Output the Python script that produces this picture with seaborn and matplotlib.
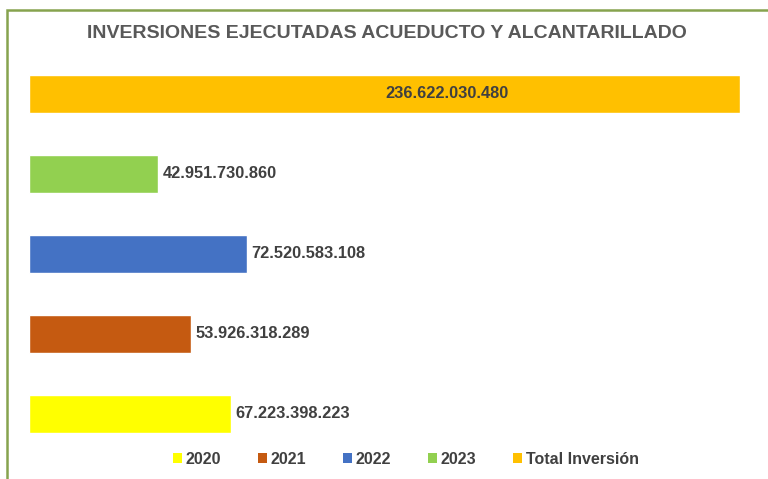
import matplotlib
matplotlib.use("Agg")
import matplotlib.pyplot as plt
import seaborn as sns
import pandas as pd
from matplotlib.patches import Rectangle, Patch

categories = ["Total Inversión", "2023", "2022", "2021", "2020"]
values = [236622030480, 42951730860, 72520583108, 53926318289, 67223398223]
labels = ["236.622.030.480", "42.951.730.860", "72.520.583.108", "53.926.318.289", "67.223.398.223"]
colors = {"2020": "#FFFF00", "2021": "#C55A11", "2022": "#4472C4",
          "2023": "#92D050", "Total Inversión": "#FFC000"}
legend_order = ["2020", "2021", "2022", "2023", "Total Inversión"]

df = pd.DataFrame({"cat": categories, "val": values})

sns.set_theme(style="white")
plt.rcParams['font.family'] = ['Liberation Sans', 'DejaVu Sans']

fig = plt.figure(figsize=(7.68, 4.79), dpi=100)
fig.patch.set_facecolor("white")
# frame
fig.patches.append(Rectangle((7/768, -0.1), 1.2, (479-10)/479 + 0.1, transform=fig.transFigure,
                             fill=False, edgecolor="#86A34E", linewidth=1.8, zorder=0))

ax = fig.add_axes([29/768, (479-454)/479, (740-29)/768, 400/479])
sns.barplot(data=df, y="cat", x="val", hue="cat", palette=colors, order=categories,
            dodge=False, width=0.48, ax=ax, legend=False, saturation=1)
ax.set_xlim(0, values[0])
ax.set_ylim(4.5, -0.5)
ax.axis("off")

txtcol = "#404040"
for i, (v, lab) in enumerate(zip(values, labels)):
    if i == 0:
        ax.text(v * 0.588, i, lab, ha="center", va="center", fontsize=11.8,
                fontweight="bold", color=txtcol)
    else:
        ax.text(v + values[0] * 0.006, i, lab, ha="left", va="center", fontsize=11.8,
                fontweight="bold", color=txtcol)

fig.text(387/768, 1 - 34/479, "INVERSIONES EJECUTADAS ACUEDUCTO Y ALCANTARILLADO",
         ha="center", va="center", fontsize=14, fontweight="bold", color="#595959")

handles = [Patch(facecolor=colors[c], edgecolor="none") for c in legend_order]
leg = fig.legend(handles, legend_order, loc="center", bbox_to_anchor=(406/768, 1 - 459/479),
                 ncol=5, frameon=False, handlelength=0.55, handleheight=0.55,
                 handletextpad=0.25, columnspacing=2.3,
                 prop={"weight": "bold", "size": 11.5})
for t in leg.get_texts():
    t.set_color(txtcol)

fig.savefig("out.png", dpi=100, facecolor="white")
